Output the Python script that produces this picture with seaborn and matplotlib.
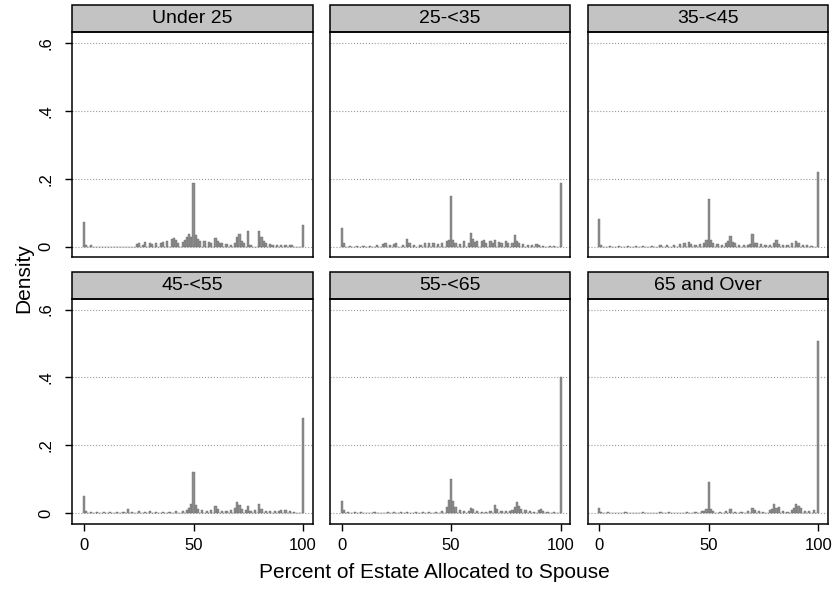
import pandas as pd
from matplotlib import pyplot as plt
from matplotlib.patches import Rectangle
import seaborn as sns

# age groups, one panel each
groups = ['Under 25', '25-<35', '35-<45', '45-<55', '55-<65', '65 and Over']

# density per 1-point bin of "percent of estate allocated to spouse"
under_25 = {0: 0.073, 1: 0.004, 3: 0.006, 24: 0.008, 25: 0.012, 27: 0.006, 28: 0.015, 30: 0.010,
            31: 0.008, 33: 0.012, 35: 0.010, 36: 0.014, 38: 0.018, 40: 0.022, 41: 0.026, 42: 0.020,
            43: 0.012, 45: 0.015, 46: 0.020, 47: 0.028, 48: 0.038, 49: 0.030, 50: 0.187, 51: 0.034,
            52: 0.024, 53: 0.018, 55: 0.016, 57: 0.014, 58: 0.012, 60: 0.027, 61: 0.018, 62: 0.012,
            63: 0.010, 65: 0.008, 67: 0.006, 69: 0.012, 70: 0.030, 71: 0.039, 72: 0.016, 73: 0.010,
            75: 0.047, 76: 0.006, 80: 0.047, 81: 0.028, 82: 0.016, 83: 0.010, 85: 0.008, 86: 0.006,
            88: 0.004, 90: 0.006, 92: 0.004, 94: 0.005, 95: 0.006, 100: 0.063}
age_25_35 = {0: 0.056, 1: 0.010, 4: 0.003, 7: 0.002, 10: 0.003, 13: 0.002, 16: 0.004, 19: 0.008,
             20: 0.010, 22: 0.006, 24: 0.008, 25: 0.012, 28: 0.006, 30: 0.024, 31: 0.010, 33: 0.005,
             36: 0.006, 38: 0.010, 40: 0.012, 42: 0.010, 44: 0.008, 46: 0.012, 48: 0.016, 49: 0.020,
             50: 0.149, 51: 0.021, 52: 0.012, 54: 0.008, 56: 0.018, 58: 0.012, 59: 0.042, 60: 0.024,
             61: 0.014, 62: 0.018, 64: 0.016, 65: 0.020, 66: 0.012, 68: 0.016, 69: 0.010, 70: 0.020,
             72: 0.014, 73: 0.012, 75: 0.018, 76: 0.010, 78: 0.012, 79: 0.036, 80: 0.016, 81: 0.010,
             83: 0.008, 85: 0.006, 87: 0.004, 89: 0.008, 90: 0.006, 92: 0.003, 95: 0.002, 97: 0.002,
             100: 0.188}
age_35_45 = {0: 0.083, 1: 0.004, 5: 0.003, 9: 0.002, 13: 0.003, 17: 0.002, 20: 0.003, 24: 0.002,
             28: 0.004, 31: 0.004, 34: 0.006, 37: 0.008, 39: 0.010, 41: 0.015, 42: 0.008, 44: 0.006,
             46: 0.008, 48: 0.012, 49: 0.020, 50: 0.141, 51: 0.020, 52: 0.012, 54: 0.008, 56: 0.006,
             58: 0.010, 59: 0.016, 60: 0.032, 61: 0.014, 62: 0.010, 64: 0.004, 66: 0.004, 68: 0.006,
             69: 0.008, 70: 0.037, 71: 0.012, 72: 0.010, 74: 0.008, 76: 0.004, 78: 0.006, 80: 0.012,
             81: 0.021, 82: 0.008, 84: 0.004, 86: 0.006, 88: 0.010, 90: 0.018, 91: 0.012, 93: 0.006,
             95: 0.004, 97: 0.003, 100: 0.220}
age_45_55 = {0: 0.050, 1: 0.006, 3: 0.004, 6: 0.003, 9: 0.004, 12: 0.005, 15: 0.004, 18: 0.003,
             20: 0.013, 22: 0.004, 25: 0.006, 28: 0.003, 30: 0.006, 33: 0.004, 36: 0.003, 39: 0.004,
             42: 0.006, 45: 0.008, 47: 0.010, 48: 0.016, 49: 0.028, 50: 0.123, 51: 0.026, 52: 0.014,
             54: 0.010, 56: 0.008, 58: 0.010, 60: 0.021, 61: 0.012, 63: 0.008, 65: 0.006, 67: 0.010,
             69: 0.016, 70: 0.034, 71: 0.026, 72: 0.012, 74: 0.010, 75: 0.022, 76: 0.008, 78: 0.010,
             80: 0.027, 81: 0.012, 83: 0.008, 85: 0.008, 87: 0.006, 89: 0.008, 90: 0.010, 92: 0.010,
             94: 0.006, 96: 0.004, 100: 0.282}
age_55_65 = {0: 0.037, 1: 0.010, 3: 0.004, 6: 0.003, 9: 0.003, 12: 0.002, 15: 0.003, 18: 0.002,
             21: 0.003, 24: 0.004, 27: 0.003, 30: 0.004, 34: 0.005, 37: 0.003, 40: 0.004, 43: 0.005,
             46: 0.008, 48: 0.020, 49: 0.040, 50: 0.100, 51: 0.037, 52: 0.020, 54: 0.010, 56: 0.008,
             58: 0.006, 59: 0.016, 60: 0.012, 62: 0.006, 64: 0.004, 66: 0.004, 68: 0.008, 70: 0.026,
             71: 0.012, 73: 0.008, 75: 0.006, 77: 0.006, 78: 0.010, 79: 0.020, 80: 0.033, 81: 0.023,
             82: 0.014, 84: 0.011, 86: 0.006, 88: 0.004, 90: 0.010, 91: 0.013, 92: 0.008, 94: 0.004,
             97: 0.004, 100: 0.400}
age_65_over = {0: 0.016, 1: 0.004, 4: 0.003, 8: 0.002, 12: 0.003, 16: 0.002, 20: 0.003, 24: 0.002,
               28: 0.003, 32: 0.003, 36: 0.002, 40: 0.004, 44: 0.004, 47: 0.006, 48: 0.008, 49: 0.012,
               50: 0.092, 51: 0.013, 52: 0.006, 55: 0.004, 58: 0.006, 60: 0.013, 62: 0.004, 65: 0.003,
               68: 0.006, 70: 0.016, 71: 0.010, 73: 0.008, 75: 0.004, 78: 0.010, 79: 0.014, 80: 0.028,
               81: 0.016, 82: 0.020, 84: 0.008, 86: 0.004, 88: 0.010, 89: 0.016, 90: 0.028, 91: 0.023,
               92: 0.016, 94: 0.008, 96: 0.006, 98: 0.010, 100: 0.507}

x_ticks = [0, 50, 100]
y_ticks = [0, 0.2, 0.4, 0.6]
y_tick_labels = ['0', '.2', '.4', '.6']

series = [under_25, age_25_35, age_35_45, age_45_55, age_55_65, age_65_over]
rows = []
for g, d in zip(groups, series):
    for p, v in d.items():
        rows.append({'group': g, 'pct': p, 'density': v})
df = pd.DataFrame(rows)

sns.set_style('white')
plt.rcParams['font.family'] = ['Liberation Sans', 'DejaVu Sans']
plt.rcParams['axes.edgecolor'] = 'black'
plt.rcParams['text.color'] = 'black'
plt.rcParams['xtick.color'] = 'black'
plt.rcParams['ytick.color'] = 'black'

fig, axes = plt.subplots(2, 3, figsize=(8.33, 5.90), dpi=100, sharex=True, sharey=True)
fig.subplots_adjust(left=0.087, right=0.994, top=0.945, bottom=0.112, wspace=0.071, hspace=0.185)

for i, (ax, g) in enumerate(zip(axes.flat, groups)):
    sub = df[df['group'] == g]
    sns.histplot(data=sub, x='pct', weights='density', discrete=True, stat='count', ax=ax,
                 color='#8e8e8e', edgecolor='#6c6c6c', linewidth=0.3, alpha=1)
    ax.set_xlim(-5.3, 104.5)
    ax.set_ylim(-0.031, 0.631)
    ax.set_xticks(x_ticks)
    ax.set_yticks(y_ticks)
    ax.set_yticklabels(y_tick_labels, rotation=90, va='center')
    ax.yaxis.grid(True, linestyle=':', color='#9a9a9a', linewidth=0.8)
    ax.set_axisbelow(True)
    ax.set_xlabel('')
    ax.set_ylabel('')
    for s in ax.spines.values():
        s.set_linewidth(1.1)
        s.set_color('black')
    ax.tick_params(axis='x', length=5, width=1, pad=5, labelsize=12, bottom=(i >= 3))
    ax.tick_params(axis='y', length=5, width=1, pad=9, labelsize=12, left=(i % 3 == 0))
    # strip header
    ax.add_patch(Rectangle((0, 1), 1, 27 / 225, transform=ax.transAxes, clip_on=False,
                           facecolor='#c3c3c3', edgecolor='black', linewidth=1.1))
    ax.text(0.5, 1 + 13.5 / 225, g, transform=ax.transAxes, ha='center', va='center', fontsize=14)

fig.supylabel('Density', x=0.028, y=0.529, ha='center', va='center', fontsize=15)
fig.supxlabel('Percent of Estate Allocated to Spouse', x=0.522, y=0.029, va='center', fontsize=15)

plt.savefig('out.png', dpi=100)
